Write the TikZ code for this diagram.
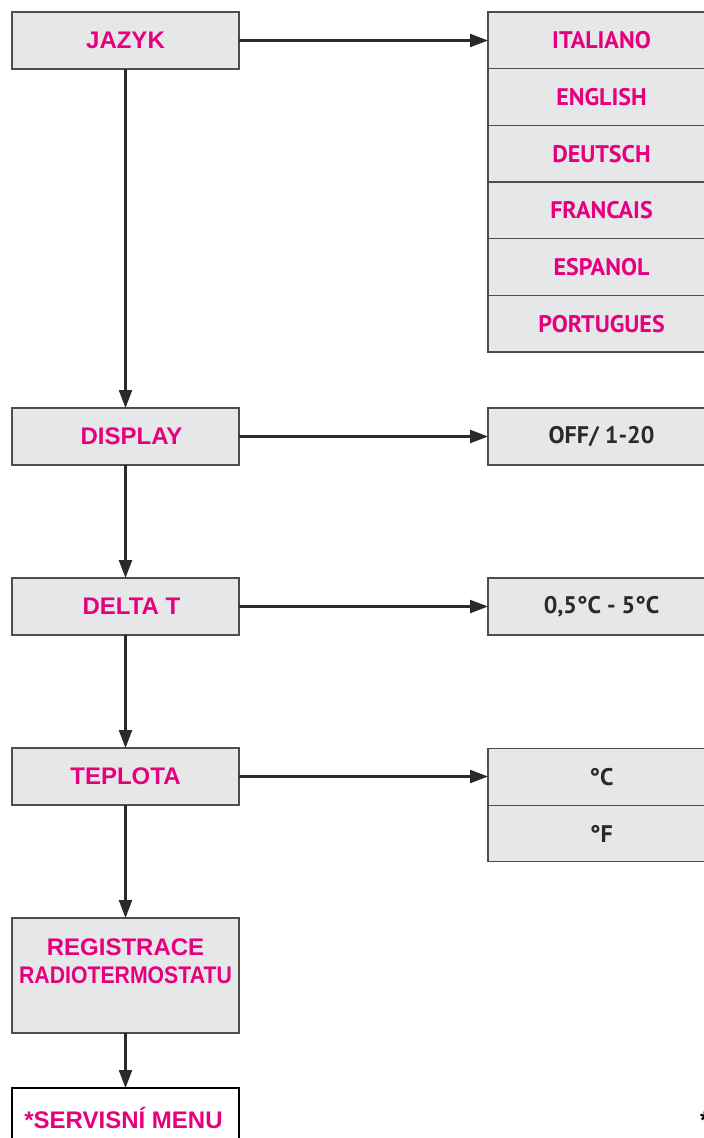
\documentclass[tikz,border=0pt]{standalone}
\usepackage{fontspec}
\setmainfont{Liberation Sans}
\newfontfamily\valfont{PT Sans}
\newfontfamily\condfont[FakeStretch=0.885]{Liberation Sans}
\usetikzlibrary{positioning, arrows.meta}

\definecolor{menupink}{HTML}{E6007E}
\definecolor{boxgray}{HTML}{E6E7E8}
\definecolor{linegray}{HTML}{4D4D4F}
\definecolor{valtext}{HTML}{2B2A29}

\begin{document}
\begin{tikzpicture}[
    x=1pt, y=-1pt,
    menubox/.style={
        draw=linegray, line width=1.1pt, fill=boxgray, outer sep=0pt,
        minimum width=227pt, minimum height=57pt, inner sep=0pt,
        font=\fontsize{24}{27}\selectfont\bfseries, text=menupink
    },
    valbox/.style={
        draw=linegray, line width=1.1pt, fill=boxgray, outer sep=0pt,
        minimum width=227pt, minimum height=56.67pt, inner sep=0pt,
        font=\valfont\fontsize{24}{28}\selectfont\bfseries, text=valtext
    },
    langbox/.style={valbox, text=menupink},
    flow/.style={-{Triangle[length=18pt, width=13pt]}, line width=2.3pt, draw=valtext},
]
\useasboundingbox (0,0) rectangle (704,1138);

% =====================================================================
%  LEFT COLUMN:  main menu items
% =====================================================================
\node[menubox] (jazyk)   at (125.5, 40.5)  {JAZYK};
\node[menubox] (display) at (125.5, 436.5) {\hspace{12pt}DISPLAY};
\node[menubox] (delta)   at (125.5, 606.5) {\hspace{12pt}DELTA T};
\node[menubox] (teplota) at (125.5, 776.5) {TEPLOTA};

% Registration box, text sits in the upper part
\node[menubox, minimum height=115pt] (registrace) at (125.5, 975.5) {};
\node[font=\fontsize{24}{28}\selectfont\bfseries, text=menupink, align=center]
    (registext) at (125.5, 961)
    {REGISTRACE\\{\condfont\bfseries RADIOTERMOSTATU}};

% Service menu (white, cut by the page edge)
\node[menubox, fill=white, draw=black] (servis) at (125.5, 1116.5) {};
\node[font=\fontsize{24}{27}\selectfont\bfseries, text=menupink]
    (servistext) at (123.5, 1118) {*SERVISNÍ MENU};

% =====================================================================
%  RIGHT COLUMN:  settings
% =====================================================================
% Languages
\node[langbox] (ita) at (601.5, 40.34) {ITALIANO};
\node[langbox, below=0pt of ita] (eng) {ENGLISH};
\node[langbox, below=0pt of eng] (deu) {DEUTSCH};
\node[langbox, below=0pt of deu] (fra) {FRANCAIS};
\node[langbox, below=0pt of fra] (esp) {ESPANOL};
\node[langbox, below=0pt of esp] (por) {PORTUGUES};

% Values
\node[valbox, minimum height=57pt] (dispval)  at (601.5, 436.5) {OFF/ 1-20};
\node[valbox, minimum height=57pt] (deltaval) at (601.5, 606.5) {0,5°C - 5°C};
\node[valbox] (degc) at (601.5, 776.84) {°C};
\node[valbox, below=0pt of degc] (degf) {°F};

% Footnote mark at the page edge
\node[font=\fontsize{24}{27}\selectfont\bfseries, anchor=west, inner sep=0pt]
    (footmark) at (700, 1120) {*};

% =====================================================================
%  ARROWS
% =====================================================================
\draw[flow] (jazyk) -- (display);
\draw[flow] (display) -- (delta);
\draw[flow] (delta) -- (teplota);
\draw[flow] (teplota) -- (registrace);
\draw[flow] (registrace) -- (servis);

\draw[flow] (jazyk.east) -- (jazyk.east -| ita.west);
\draw[flow] (display.east) -- (display.east -| dispval.west);
\draw[flow] (delta.east) -- (delta.east -| deltaval.west);
\draw[flow] (teplota.east) -- (teplota.east -| degc.west);

\end{tikzpicture}
\end{document}
